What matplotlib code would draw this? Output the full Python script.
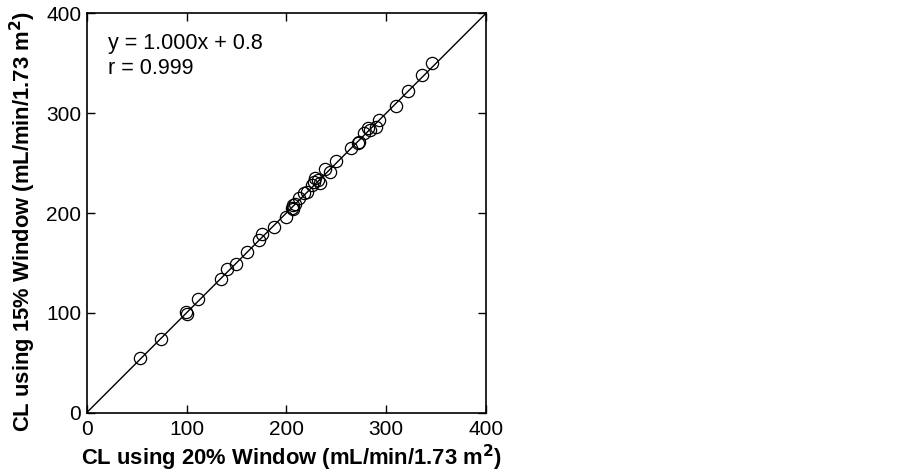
import matplotlib
matplotlib.use("Agg")
import matplotlib.pyplot as plt

plt.rcParams['font.family'] = ['Liberation Sans', 'DejaVu Sans']

# Data (CL 20% window vs CL 15% window)
cl_20 = [53.8, 74.5, 99.5, 100.2, 111.5, 134.2, 140.6, 149.2, 160.6, 172.6,
         175.3, 188.0, 199.3, 205.3, 206.3, 208.7, 207.0, 212.7, 218.0, 220.4,
         226.0, 228.0, 229.0, 232.0, 233.7, 238.7, 243.4, 249.7, 264.8, 271.5,
         273.0, 277.5, 282.1, 284.0, 290.2, 293.2, 309.8, 322.2, 335.9, 345.9]
cl_15 = [54.4, 74.1, 100.5, 98.8, 113.5, 134.2, 144.2, 149.2, 160.6, 173.0,
         179.3, 186.0, 195.7, 204.7, 208.0, 208.7, 203.7, 215.0, 219.7, 221.4,
         228.0, 231.4, 235.4, 233.0, 230.4, 244.4, 241.4, 252.0, 265.4, 269.8,
         270.8, 279.8, 284.8, 283.0, 286.5, 292.8, 306.8, 322.5, 337.9, 349.9]
line_x = [0, 400]
line_y = [0, 400]
ticks = [0, 100, 200, 300, 400]
eq_text = "y = 1.000x + 0.8"
r_text = "r = 0.999"

fig = plt.figure(figsize=(9.02, 4.76), dpi=100)
ax = fig.add_axes([0.0961, 0.133, 0.4427, 0.839])

ax.plot(line_x, line_y, color='black', lw=1.0)
ax.plot(cl_20, cl_15, linestyle='none', marker='o', markersize=8.8,
        markerfacecolor='none', markeredgecolor='black', markeredgewidth=0.9)

ax.set_xlim(0, 400)
ax.set_ylim(0, 400)
ax.set_xticks(ticks)
ax.set_yticks(ticks)
ax.tick_params(direction='in', length=6, width=1, top=True, right=True,
               labelsize=15)
ax.tick_params(axis='x', pad=5)
ax.tick_params(axis='y', pad=4)
for s in ax.spines.values():
    s.set_linewidth(1.2)

ax.set_xlabel("CL using 20% Window (mL/min/1.73 m$^\\mathbf{2}$)",
              fontsize=15.8, fontweight='bold', labelpad=3)
ax.set_ylabel("CL using 15% Window (mL/min/1.73 m$^\\mathbf{2}$)",
              fontsize=15.8, fontweight='bold', labelpad=6)
ax.xaxis.label.set_x(0.5125)
ax.yaxis.label.set_y(0.4775)

ax.text(0.053, 0.925, eq_text, transform=ax.transAxes, fontsize=15.5,
        va='center', ha='left')
ax.text(0.053, 0.862, r_text, transform=ax.transAxes, fontsize=15.5,
        va='center', ha='left')

fig.savefig("out.png", dpi=100)
